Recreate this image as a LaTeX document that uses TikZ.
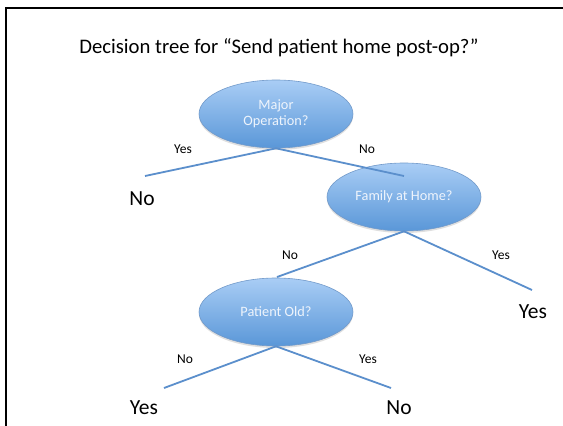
\documentclass[tikz,border=0pt]{standalone}
\usepackage{fontspec}
\setmainfont{Carlito}
\usetikzlibrary{shapes.geometric,shadows}
\definecolor{ellTop}{HTML}{A9CDF5}
\definecolor{ellBot}{HTML}{5A97D8}
\definecolor{ellLine}{HTML}{4F81BD}
\definecolor{edgeBlue}{HTML}{5B8FCC}
\definecolor{ellText}{HTML}{EEF4FC}
\tikzset{
  x=1pt, y=-1pt,
  decision/.style={ellipse, minimum width=154pt, minimum height=68pt, inner sep=0pt,
    top color=ellTop, bottom color=ellBot, draw=ellLine!80, line width=0.6pt,
    text=ellText, font=\fontsize{14.3}{16}\selectfont, align=center,
    drop shadow={shadow xshift=0pt, shadow yshift=-2pt, opacity=0.25}},
  leaf/.style={font=\fontsize{21.5}{24}\selectfont, inner sep=0pt},
  edgelabel/.style={font=\fontsize{13.5}{15}\selectfont, inner sep=0pt},
  branch/.style={draw=edgeBlue, line width=1.8pt},
}
\begin{document}
\begin{tikzpicture}
\useasboundingbox (0,0) rectangle (563,426);
\fill[white] (0,0) rectangle (563,426);
\begin{scope}
\clip (0,0) rectangle (563,426);
\draw[line width=2pt] (6,8) rectangle (575,440);
\end{scope}
\node[font=\fontsize{20.7}{24}\selectfont, inner sep=0pt] (title) at (279,48) {Decision tree for “Send patient home post-op?”};

\node[decision] (major) at (276,114) {Major\\Operation?};
\node[decision] (family) at (404,197) {Family at Home?};
\node[decision] (old) at (276,312) {Patient Old?};

\coordinate (a1) at (145,176);
\coordinate (a2) at (404,176);
\coordinate (b1) at (277,277);
\coordinate (b2) at (532,290);
\coordinate (c1) at (164,388);
\coordinate (c2) at (391,388);

\draw[branch] (major.south) -- (a1);
\draw[branch] (major.south) -- (a2);
\draw[branch] (family.south) -- (b1);
\draw[branch] (family.south) -- (b2);
\draw[branch] (old.south) -- (c1);
\draw[branch] (old.south) -- (c2);

\node[edgelabel] (l1) at (183,149) {Yes};
\node[edgelabel] (l2) at (367,149) {No};
\node[edgelabel] (l3) at (290,255) {No};
\node[edgelabel] (l4) at (501,255) {Yes};
\node[edgelabel] (l5) at (185,359) {No};
\node[edgelabel] (l6) at (368,359) {Yes};

\node[leaf] (n1) at (142,199) {No};
\node[leaf] (n2) at (533,312) {Yes};
\node[leaf] (n3) at (144,408) {Yes};
\node[leaf] (n4) at (399,408) {No};
\end{tikzpicture}
\end{document}
